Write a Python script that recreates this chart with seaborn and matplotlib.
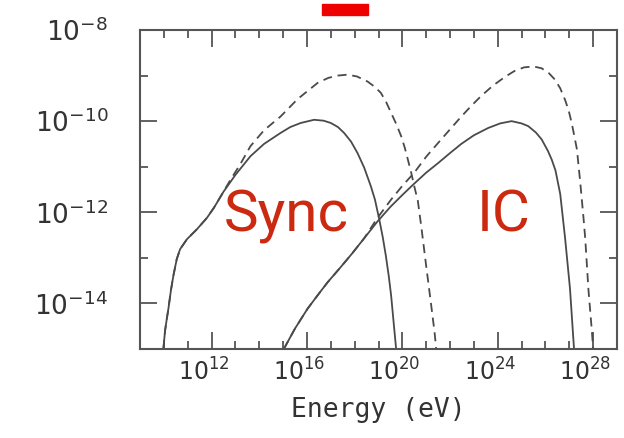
import numpy as np
import pandas as pd
import matplotlib
matplotlib.use("Agg")
import matplotlib.pyplot as plt
import matplotlib.transforms as mtransforms
from matplotlib.patches import Rectangle
from matplotlib.ticker import FixedLocator, FixedFormatter, NullFormatter
import seaborn as sns

# ---- data (log10 values) ----
sync_solid_logE = [9.98, 10.05, 10.12, 10.19, 10.3, 10.4, 10.54, 10.68, 10.97, 11.39, 11.81, 12.1, 12.5,
                   13.0, 13.63, 14.2, 14.89, 15.3, 15.74, 16.3, 16.7, 17.0, 17.3, 17.56, 17.85, 18.12,
                   18.4, 18.68, 18.85, 19.03, 19.18, 19.31, 19.43, 19.53, 19.66, 19.74]
sync_solid_logF = [-15.0, -14.6, -14.35, -14.12, -13.7, -13.39, -13.03, -12.81, -12.59, -12.37, -12.12, -11.9, -11.55,
                   -11.18, -10.77, -10.5, -10.26, -10.13, -10.04, -9.97, -9.99, -10.04, -10.13, -10.26, -10.45, -10.7,
                   -11.02, -11.43, -11.72, -12.15, -12.55, -12.96, -13.4, -13.83, -14.56, -15.0]

sync_dash_logE = [9.98, 10.05, 10.12, 10.19, 10.3, 10.4, 10.54, 10.68, 10.97, 11.39, 11.81, 12.1, 12.5,
                  12.8, 13.2, 13.63, 14.2, 14.89, 15.6, 16.0, 16.45, 16.9, 17.3, 17.7, 18.1, 18.54, 18.85,
                  19.1, 19.32, 19.53, 19.75, 19.95, 20.1, 20.23, 20.38, 20.5, 20.65, 20.8, 21.0, 21.2,
                  21.35, 21.42]
sync_dash_logF = [-15.0, -14.6, -14.35, -14.12, -13.7, -13.39, -13.03, -12.81, -12.59, -12.37, -12.12, -11.9, -11.55,
                  -11.28, -10.95, -10.55, -10.2, -9.9, -9.52, -9.35, -9.16, -9.05, -9.0, -8.98, -9.02, -9.13, -9.25,
                  -9.38, -9.58, -9.82, -10.07, -10.33, -10.58, -10.84, -11.15, -11.43, -11.75, -12.34, -13.18, -14.0,
                  -14.63, -15.0]

ic_solid_logE = [15.03, 15.5, 16.02, 16.45, 16.86, 17.42, 17.9, 18.4, 18.96, 19.5, 20.0, 20.5, 21.0, 21.5,
                 22.0, 22.47, 23.0, 23.6, 24.1, 24.58, 25.0, 25.28, 25.6, 25.84, 26.1, 26.26, 26.42, 26.62,
                 26.82, 27.03, 27.17, 27.2]
ic_solid_logF = [-15.0, -14.55, -14.12, -13.82, -13.54, -13.2, -12.9, -12.57, -12.2, -11.88, -11.62, -11.37, -11.13,
                 -10.92, -10.7, -10.5, -10.31, -10.15, -10.05, -10.0, -10.05, -10.11, -10.25, -10.4, -10.65, -10.84,
                 -11.08, -11.6, -12.55, -13.68, -14.78, -15.0]

ic_dash_logE = [15.03, 15.5, 16.02, 16.45, 16.86, 17.42, 17.9, 18.4, 18.96, 19.53, 20.0, 20.5, 21.0, 21.63,
                22.05, 22.47, 22.9, 23.3, 23.8, 24.3, 24.7, 25.1, 25.5, 25.84, 26.15, 26.4, 26.62, 26.82,
                26.97, 27.1, 27.22, 27.32, 27.46, 27.53, 27.6, 27.67, 27.8, 27.95, 28.0]
ic_dash_logF = [-15.0, -14.55, -14.12, -13.82, -13.54, -13.2, -12.9, -12.57, -12.12, -11.72, -11.42, -11.13, -10.78,
                -10.4, -10.15, -9.9, -9.66, -9.45, -9.22, -9.03, -8.9, -8.82, -8.8, -8.84, -8.95, -9.09, -9.28,
                -9.53, -9.76, -10.04, -10.35, -10.62, -11.35, -11.75, -12.15, -12.59, -13.68, -14.63, -15.0]

x_major = [12, 16, 20, 24, 28]
y_major = [-14, -12, -10, -8]
x_label = "Energy (eV)"
annotations = ["Sync", "IC"]

# ---- style ----
sns.set_style("ticks")
plt.rcParams["font.family"] = ["DejaVu Sans"]
plt.rcParams["mathtext.fontset"] = "dejavusans"

fig = plt.figure(figsize=(6.24, 4.38), dpi=100)
ax = fig.add_axes([140 / 624, 1 - 349 / 438, (617 - 140) / 624, (349 - 30) / 438])

line_col = "#4a4a4a"
curves = [
    (sync_solid_logE, sync_solid_logF, "-"),
    (sync_dash_logE, sync_dash_logF, "--"),
    (ic_solid_logE, ic_solid_logF, "-"),
    (ic_dash_logE, ic_dash_logF, "--"),
]
for lx, ly, ls in curves:
    df = pd.DataFrame({"E": 10.0 ** np.array(lx), "F": 10.0 ** np.array(ly)})
    sns.lineplot(data=df, x="E", y="F", ax=ax, color=line_col, lw=1.3, sort=False, estimator=None)
    l = ax.get_lines()[-1]
    l.set_solid_joinstyle("round")
    if ls == "--":
        l.set_dashes([5, 3.2])

ax.set_xscale("log")
ax.set_yscale("log")
ax.set_xlim(1e9, 1e29)
ax.set_ylim(1e-15, 1e-8)

ax.xaxis.set_major_locator(FixedLocator([10.0 ** v for v in x_major]))
ax.xaxis.set_major_formatter(FixedFormatter([r"$10^{%d}$" % v for v in x_major]))
ax.xaxis.set_minor_locator(FixedLocator([10.0 ** v for v in range(9, 30)]))
ax.xaxis.set_minor_formatter(NullFormatter())
ax.yaxis.set_major_locator(FixedLocator([10.0 ** v for v in y_major]))
ax.yaxis.set_major_formatter(FixedFormatter([r"$10^{%d}$" % v for v in y_major]))
ax.yaxis.set_minor_locator(FixedLocator([10.0 ** v for v in range(-15, -7)]))
ax.yaxis.set_minor_formatter(NullFormatter())

ax.tick_params(which="both", direction="in", top=True, right=True, color="#555555", width=1.3)
ax.tick_params(which="major", length=12)
ax.tick_params(which="minor", length=5.5)
ax.tick_params(axis="x", which="major", labelsize=17, pad=7, labelcolor="#333333")
ax.tick_params(axis="y", which="major", labelsize=19, pad=23, labelcolor="#333333")

offset = mtransforms.ScaledTranslation(-8 / 100, 0, fig.dpi_scale_trans)
for lab in ax.get_xticklabels():
    lab.set_transform(lab.get_transform() + offset)

for sp in ax.spines.values():
    sp.set_color("#555555")
    sp.set_linewidth(1.5)

ax.set_xlabel(x_label, fontsize=19, color="#333333", family="DejaVu Sans Mono", labelpad=8)
ax.set_ylabel("")

red = "#cc2a10"
ax.text(10 ** 12.5, 10 ** -12.42, annotations[0], color=red, fontsize=42, family="Roboto",
        fontweight="normal", ha="left", va="baseline")
ax.text(10 ** 23.1, 10 ** -12.42, annotations[1], color=red, fontsize=42, family="Roboto",
        fontweight="normal", ha="left", va="baseline")

fig.patches.append(Rectangle((322 / 624, 1 - 15 / 438), 46 / 624, 11 / 438,
                             transform=fig.transFigure, color="#ee0000", zorder=5))

fig.savefig("out.png", dpi=100)
